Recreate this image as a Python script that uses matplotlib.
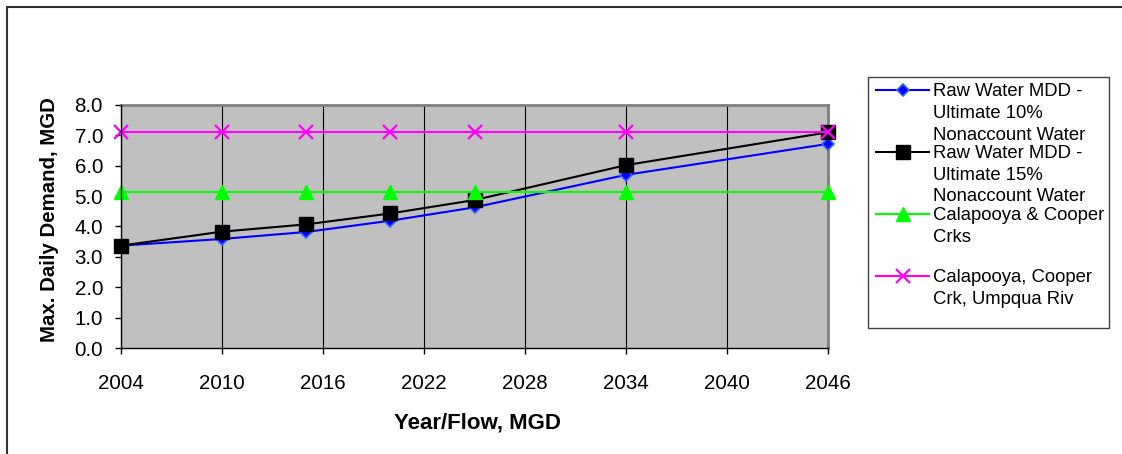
import matplotlib.pyplot as plt
from matplotlib.lines import Line2D
from matplotlib.patches import Rectangle

# Demand projections and source capacities (MGD)
years = [2004, 2010, 2015, 2020, 2025, 2034, 2046]
mdd_10pct = [3.37, 3.59, 3.82, 4.19, 4.63, 5.70, 6.72]
mdd_15pct = [3.37, 3.83, 4.07, 4.43, 4.87, 6.02, 7.10]
calapooya_cooper = [5.15, 5.15, 5.15, 5.15, 5.15, 5.15, 5.15]
calapooya_cooper_umpqua = [7.10, 7.10, 7.10, 7.10, 7.10, 7.10, 7.10]

x_ticks = [2004, 2010, 2016, 2022, 2028, 2034, 2040, 2046]
y_ticks = [0, 1, 2, 3, 4, 5, 6, 7, 8]

labels = [
    "Raw Water MDD -\nUltimate 10%\nNonaccount Water",
    "Raw Water MDD -\nUltimate 15%\nNonaccount Water",
    "Calapooya & Cooper\nCrks",
    "Calapooya, Cooper\nCrk, Umpqua Riv",
]

styles = [
    dict(color="#0000FF", marker="D", markersize=6, markerfacecolor="#0000FF",
         markeredgecolor="#3366FF", markeredgewidth=1.2, linewidth=1.5),
    dict(color="black", marker="s", markersize=9.5, markerfacecolor="black",
         markeredgecolor="black", linewidth=1.5),
    dict(color="#00FF00", marker="^", markersize=10.5, markerfacecolor="#00FF00",
         markeredgecolor="#00FF00", linewidth=1.5),
    dict(color="#FF00FF", marker="x", markersize=10, markeredgewidth=1.6,
         linewidth=1.5),
]

plt.rcParams["font.family"] = ["Liberation Sans", "DejaVu Sans"]
TICK_FS = 14.8
LEG_FS = 13.3

W, H = 1122, 454
fig = plt.figure(figsize=(W / 100, H / 100), dpi=100)


def fx(x):
    return x / W


def fy(y):
    return 1 - y / H


# outer chart frame
fig.add_artist(Rectangle((fx(7), fy(470)), fx(1200), 470 / H - 7.5 / H,
                         transform=fig.transFigure, fill=False,
                         edgecolor="#303030", linewidth=1.5))

left, right, top, bottom = 121, 828, 105, 348
ax = fig.add_axes([fx(left), fy(bottom), fx(right - left), (bottom - top) / H])
ax.set_facecolor("#C0C0C0")

series = [mdd_10pct, mdd_15pct, calapooya_cooper, calapooya_cooper_umpqua]
for vals, st in zip(series, styles):
    ax.plot(years, vals, clip_on=False, zorder=3, **st)

ax.set_xlim(2004, 2046)
ax.set_ylim(0, 8)
ax.set_xticks(x_ticks)
ax.set_yticks(y_ticks)
ax.set_yticklabels([f"{v:.1f}" for v in y_ticks])
ax.tick_params(axis="both", labelsize=TICK_FS, direction="out", length=4.5,
               width=1, color="black")
ax.tick_params(axis="x", pad=14)
ax.tick_params(axis="y", pad=8.4)
ax.grid(axis="x", color="black", linewidth=0.8)
ax.set_axisbelow(True)

for side in ("top", "right"):
    ax.spines[side].set_color("#808080")
    ax.spines[side].set_linewidth(2)
for side in ("left", "bottom"):
    ax.spines[side].set_color("black")
    ax.spines[side].set_linewidth(1)
    ax.spines[side].set_zorder(4)

fig.text(fx(477), fy(428), "Year/Flow, MGD", fontsize=16, fontweight="bold",
         ha="center", va="baseline")
fig.text(fx(50), fy(219.5), "Max. Daily Demand, MGD", fontsize=14.7,
         fontweight="bold", rotation=90, ha="center", va="center")

# legend box
fig.add_artist(Rectangle((fx(868), fy(328)), fx(1109 - 868), (328 - 77) / H,
                         transform=fig.transFigure, facecolor="white",
                         edgecolor="#404040", linewidth=1))
entry_y = [90, 152, 214, 276]
for lab, st, y0 in zip(labels, styles, entry_y):
    fig.add_artist(Line2D([fx(876), fx(902.5), fx(929)], [fy(y0)] * 3,
                          transform=fig.transFigure, markevery=[1], **st))
    for k, line in enumerate(lab.split("\n")):
        fig.text(fx(933), fy(y0 + 6.5 + k * 21.5), line, fontsize=LEG_FS,
                 ha="left", va="baseline")

fig.savefig("out.png", dpi=100)
